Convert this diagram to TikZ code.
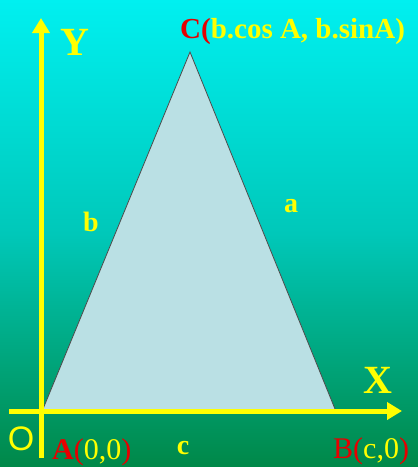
\documentclass[tikz,border=0pt]{standalone}
\usepackage{fontspec}
\setmainfont{Liberation Serif}
\newfontfamily\labelsans{Liberation Sans}
\usetikzlibrary{arrows.meta, positioning, calc}

\definecolor{bgtop}{RGB}{0,240,240}
\definecolor{bgmid}{RGB}{0,200,185}
\definecolor{bgbot}{RGB}{0,136,72}
\definecolor{trifill}{RGB}{186,224,228}
\definecolor{axisyellow}{RGB}{255,255,0}
\definecolor{ptred}{RGB}{230,0,0}

\begin{document}
\begin{tikzpicture}[
    x=1pt, y=-1pt,
    axis/.style={draw=axisyellow, line width=5pt, -{Triangle[width=17pt,length=15pt]}},
    side/.style={text=axisyellow, font=\bfseries\fontsize{28}{28}\selectfont},
    axlabel/.style={text=axisyellow, font=\bfseries\fontsize{40}{40}\selectfont},
    ptlabel/.style={anchor=base west, inner sep=0pt, font=\fontsize{30}{30}\selectfont}
]
% background
\shade[top color=bgtop, bottom color=bgbot, middle color=bgmid] (0,0) rectangle (418,467);
\useasboundingbox (0,0) rectangle (418,467);

% triangle
\coordinate (A) at (43,409);
\coordinate (B) at (335,409);
\coordinate (C) at (190,52);
\fill[trifill] (A) -- (B) -- (C) -- cycle;
\draw[black!70, line width=0.8pt] (A) -- (C) -- (B);

% axes
\coordinate (xstart) at (9,411);
\coordinate (xend) at (402,411);
\coordinate (ystart) at (41,458);
\coordinate (yend) at (41,18);
\draw[axis] (xstart) -- (xend);
\draw[axis] (ystart) -- (yend);

% labels
\node (ylab) [axlabel] at (75,42) {Y};
\node (xlab) [axlabel] at (378,380) {X};
\node (olab) [text=axisyellow, font=\labelsans\fontsize{34}{34}\selectfont] at (21,439) {O};
\node (clab) [ptlabel, font=\bfseries\fontsize{29}{29}\selectfont] at (180,38)
    {\textcolor{ptred}{C(}\textcolor{axisyellow}{b.cos A, b.sinA)}};
\node (alab) [ptlabel] at (52,459)
    {\textcolor{ptred}{\textbf{A}(}\textcolor{axisyellow}{0,0}\textcolor{ptred}{)}};
\node (blab) [ptlabel] at (333,458)
    {\textcolor{ptred}{B(}\textcolor{axisyellow}{c,0}\textcolor{ptred}{)}};
\node (sideb) [side] at (91,222) {b};
\node (sidea) [side] at (291,206) {a};
\node (sidec) [side] at (183,448) {c};
\end{tikzpicture}
\end{document}
